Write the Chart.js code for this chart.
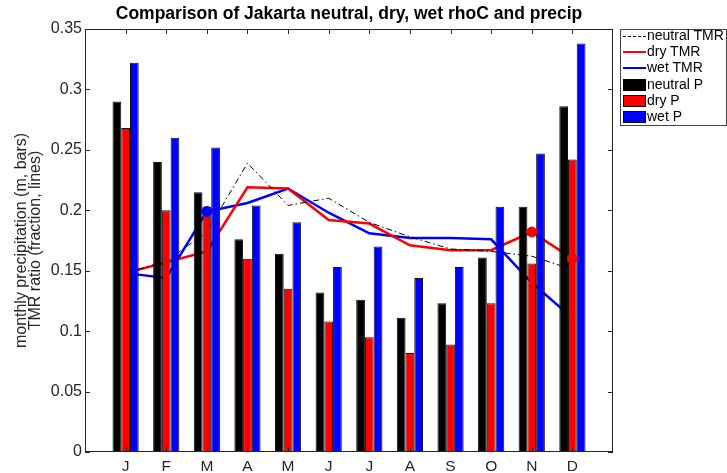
<!DOCTYPE html>
<html>
<head>
<meta charset="utf-8">
<script src="https://cdn.jsdelivr.net/npm/chart.js@4/dist/chart.umd.min.js"></script>
<style>
  body { margin: 0; background: #fff; font-family: "Liberation Sans", Arial, sans-serif; }
  #wrap { position: relative; width: 727px; height: 473px; }
  #title { position: absolute; left: 85px; width: 528px; top: 3px; text-align: center;
           font-weight: bold; font-size: 17.5px; color: #000; }
  #legend { position: absolute; left: 620px; top: 29px; width: 105px; height: 95px;
            border: 1px solid #444; background: #fff; font-size: 14px; color: #000; }
  .row { position: absolute; left: 2px; height: 16px; line-height: 16px; white-space: nowrap; }
  .sample { display: inline-block; width: 23px; vertical-align: middle; margin-right: 1px; }
  .patch { height: 12px; border: 1px solid #000; box-sizing: border-box; }
</style>
</head>
<body>
<div id="wrap">
  <canvas id="c" width="727" height="473"></canvas>
  <div id="title">Comparison of Jakarta neutral, dry, wet rhoC and precip</div>
  <div id="legend">
    <div class="row" style="top:-3px"><span class="sample" style="border-top:1px dashed #000"></span>neutral TMR</div>
    <div class="row" style="top:13px"><span class="sample" style="border-top:2.5px solid #f00"></span>dry TMR</div>
    <div class="row" style="top:29px"><span class="sample" style="border-top:2.5px solid #00f"></span>wet TMR</div>
    <div class="row" style="top:46px"><span class="sample patch" style="background:#000"></span>neutral P</div>
    <div class="row" style="top:62px"><span class="sample patch" style="background:#f00"></span>dry P</div>
    <div class="row" style="top:78px"><span class="sample patch" style="background:#00f"></span>wet P</div>
  </div>
</div>
<script>
// months on the x axis
var months = ['J', 'F', 'M', 'A', 'M', 'J', 'J', 'A', 'S', 'O', 'N', 'D'];

// monthly precipitation (m) - bars
var neutralP = [0.290, 0.240, 0.215, 0.176, 0.164, 0.132, 0.126, 0.111, 0.123, 0.161, 0.203, 0.286];
var dryP     = [0.268, 0.200, 0.203, 0.160, 0.135, 0.108, 0.095, 0.082, 0.089, 0.123, 0.156, 0.242];
var wetP     = [0.322, 0.260, 0.252, 0.204, 0.190, 0.153, 0.170, 0.144, 0.153, 0.203, 0.247, 0.338];

// TMR ratio (fraction) - lines
var neutralTMR = [0.148, 0.158, 0.182, 0.239, 0.204, 0.210, 0.190, 0.178, 0.168, 0.166, 0.162, 0.151];
var dryTMR     = [0.148, 0.157, 0.166, 0.219, 0.218, 0.192, 0.189, 0.171, 0.167, 0.167, 0.182, 0.160];
var wetTMR     = [0.148, 0.144, 0.199, 0.206, 0.218, 0.198, 0.181, 0.177, 0.177, 0.176, 0.140, 0.111];

// months that carry a dot marker
var wetDots = [2];
var dryDots = [10, 11];

var yTicks = [0, 0.05, 0.1, 0.15, 0.2, 0.25, 0.3, 0.35];

function pts(arr) {
  return arr.map(function (v, i) { return { x: i + 1, y: v }; });
}
function dots(arr, idx) {
  return idx.map(function (i) { return { x: i + 1, y: arr[i] }; });
}

var axisColor = '#262626';

// box round the plot with inward ticks, MATLAB style
var boxPlugin = {
  id: 'box',
  afterDraw: function (chart) {
    var ctx = chart.ctx, a = chart.chartArea;
    var xs = chart.scales.x, ys = chart.scales.y;
    ctx.save();
    ctx.strokeStyle = axisColor;
    ctx.lineWidth = 1;
    ctx.strokeRect(a.left + 0.5, a.top + 0.5, a.right - a.left - 1, a.bottom - a.top - 1);
    ctx.beginPath();
    for (var i = 1; i <= months.length; i++) {
      var px = Math.round(xs.getPixelForValue(i)) + 0.5;
      ctx.moveTo(px, a.bottom); ctx.lineTo(px, a.bottom - 5);
      ctx.moveTo(px, a.top); ctx.lineTo(px, a.top + 5);
    }
    yTicks.forEach(function (t) {
      var py = Math.round(ys.getPixelForValue(t)) + 0.5;
      ctx.moveTo(a.left, py); ctx.lineTo(a.left + 5, py);
      ctx.moveTo(a.right, py); ctx.lineTo(a.right - 5, py);
    });
    ctx.stroke();
    ctx.restore();
  }
};

new Chart('c', {
  type: 'bar',
  data: {
    datasets: [
      { type: 'line', label: 'wet TMR dot', data: dots(wetTMR, wetDots), showLine: false,
        pointRadius: 5, pointBackgroundColor: '#00f', pointBorderColor: '#00f', order: 0 },
      { type: 'line', label: 'dry TMR dot', data: dots(dryTMR, dryDots), showLine: false,
        pointRadius: 5, pointBackgroundColor: '#f00', pointBorderColor: '#f00', order: 0 },
      { label: 'neutral P', data: pts(neutralP), backgroundColor: '#000', borderColor: '#111', borderWidth: 1, order: 1 },
      { label: 'dry P', data: pts(dryP), backgroundColor: '#f00', borderColor: '#111', borderWidth: 1, order: 1 },
      { label: 'wet P', data: pts(wetP), backgroundColor: '#00f', borderColor: '#111', borderWidth: 1, order: 1 },
      { type: 'line', label: 'neutral TMR', data: pts(neutralTMR), borderColor: '#000', borderWidth: 1,
        borderDash: [6, 3, 1.5, 3], pointRadius: 0, fill: false, tension: 0, order: 2 },
      { type: 'line', label: 'dry TMR', data: pts(dryTMR), borderColor: '#f00', borderWidth: 2.5,
        pointRadius: 0, fill: false, tension: 0, order: 2 },
      { type: 'line', label: 'wet TMR', data: pts(wetTMR), borderColor: '#00f', borderWidth: 2.5,
        pointRadius: 0, fill: false, tension: 0, order: 2 }
    ]
  },
  options: {
    responsive: false,
    animation: false,
    categoryPercentage: 0.645,
    barPercentage: 1,
    layout: { padding: { left: 0, right: 114, top: 29, bottom: 0 } },
    plugins: { legend: { display: false }, tooltip: { enabled: false } },
    scales: {
      x: {
        type: 'linear', min: 0, max: 13, offset: false,
        grid: { display: false, drawTicks: false },
        border: { display: false },
        afterBuildTicks: function (s) {
          s.ticks = months.map(function (m, i) { return { value: i + 1 }; });
        },
        ticks: {
          autoSkip: false, maxRotation: 0, padding: 5, color: axisColor,
          font: { family: 'Liberation Sans', size: 15.5 },
          callback: function (v) { return months[v - 1] || ''; }
        },
        afterFit: function (s) { s.height = 21; }
      },
      y: {
        min: 0, max: 0.35,
        grid: { display: false, drawTicks: false },
        border: { display: false },
        afterBuildTicks: function (s) {
          s.ticks = yTicks.map(function (t) { return { value: t }; });
        },
        ticks: {
          padding: 3, color: axisColor,
          font: { family: 'Liberation Sans', size: 16 },
          callback: function (v) { return String(+v.toFixed(2)); }
        },
        title: {
          display: true,
          text: ['monthly precipitation (m, bars)', 'TMR ratio (fraction, lines)'],
          color: axisColor,
          font: { family: 'Liberation Sans', size: 16, lineHeight: 0.86 },
          padding: { top: 15, bottom: 0 }
        },
        afterFit: function (s) { s.width = 85; }
      }
    }
  },
  plugins: [boxPlugin]
});
</script>
</body>
</html>
